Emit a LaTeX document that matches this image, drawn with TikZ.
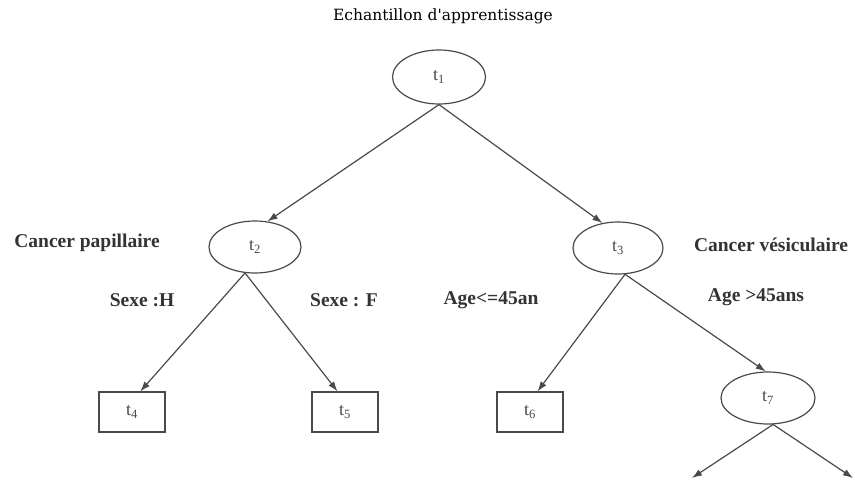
\documentclass[tikz,border=0pt]{standalone}
\usepackage{fontspec}
\setmainfont{Liberation Serif}
\newfontfamily\titlefont{DejaVu Serif}
\usetikzlibrary{shapes.geometric,arrows.meta}
\definecolor{ink}{HTML}{4A4A4A}
\definecolor{labelink}{HTML}{333333}
\tikzset{
  treenode/.style={draw=ink, line width=1.2pt, text=ink, inner sep=0pt,
    font=\fontsize{18}{20}\selectfont},
  ellnode/.style={treenode, ellipse, minimum width=93pt, minimum height=54pt},
  leafnode/.style={treenode, rectangle, minimum width=66pt, minimum height=40pt},
  branch/.style={draw=ink, line width=1.2pt, -{Latex[length=10pt,width=7pt]}},
  lbl/.style={text=labelink, font=\fontsize{19.5}{22}\selectfont\bfseries, inner sep=0pt}
}
\newcommand{\tn}[1]{t\textsubscript{#1}}
\begin{document}
\begin{tikzpicture}[x=1pt,y=-1pt]
  \useasboundingbox (0,0) rectangle (855,488);
  \fill[white] (0,0) rectangle (855,488);

  % title
  \node[text=black, font=\titlefont\fontsize{15.5}{18}\selectfont, inner sep=0pt] (title) at (443,16) {Echantillon d'apprentissage};

  % tree nodes
  \node[ellnode] (t1) at (439,77) {\tn{1}};
  \node[ellnode, minimum width=92pt, minimum height=52pt] (t2) at (255,247) {\tn{2}};
  \node[ellnode, minimum width=90pt, minimum height=52pt] (t3) at (618,248) {\tn{3}};
  \node[leafnode] (t4) at (132,412) {\tn{4}};
  \node[leafnode] (t5) at (345,412) {\tn{5}};
  \node[leafnode] (t6) at (530,412) {\tn{6}};
  \node[ellnode, minimum width=94pt, minimum height=52pt] (t7) at (768,398) {\tn{7}};

  % loose ends below t7
  \coordinate (e1) at (692,478);
  \coordinate (e2) at (853,478);

  % branches
  \draw[branch] (t1.south) -- (t2.64);
  \draw[branch] (t1.south) -- (t3.122);
  \draw[branch] (t2.249) -- (t4.68);
  \draw[branch] (t2.249) -- (t5.110);
  \draw[branch] (t3.285) -- (t6.70);
  \draw[branch] (t3.285) -- (t7.95);
  \draw[branch] (t7.281) -- (e1);
  \draw[branch] (t7.281) -- (e2);

  % branch labels
  \node[lbl] (lp) at (87,243) {Cancer papillaire};
  \node[lbl] (lv) at (771,245) {Cancer vésiculaire};
  \node[lbl] (lh) at (142,300) {Sexe :H};
  \node[lbl] (lf) at (344,300) {Sexe : F};
  \node[lbl] (la) at (491,300) {Age<=45an};
  \node[lbl] (lb) at (756,297) {Age >45ans};
\end{tikzpicture}
\end{document}
